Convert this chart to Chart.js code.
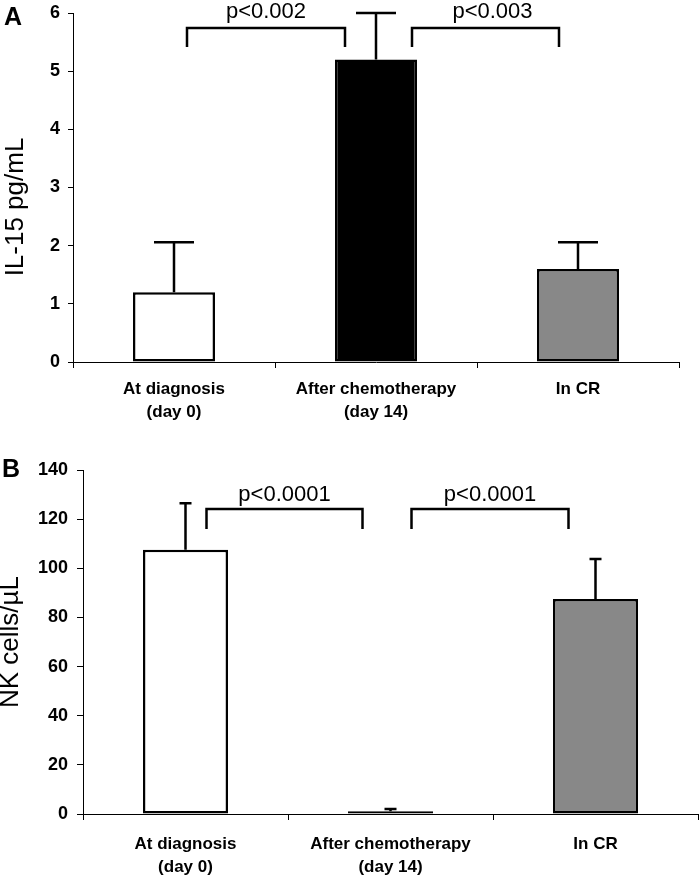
<!DOCTYPE html>
<html>
<head>
<meta charset="utf-8">
<script src="https://cdn.jsdelivr.net/npm/chart.js@4.4.0/dist/chart.umd.min.js"></script>
<style>
  body { margin: 0; background: #fff; }
  .panel { position: absolute; left: 0; }
</style>
</head>
<body>
<div class="panel" style="top:0"><canvas id="il15" width="699" height="440"></canvas></div>
<div class="panel" style="top:440px"><canvas id="nk" width="699" height="438"></canvas></div>
<script>
// groups on the x axis
categories = [["At diagnosis", "(day 0)"], ["After chemotherapy", "(day 14)"], ["In CR"]];
barColors = ["#ffffff", "#000000", "#888888"];

// panel A: IL-15 (pg/mL), mean and upper error
il15Means = [1.2, 5.2, 1.6];
il15Errors = [0.86, 0.8, 0.46];
il15Ticks = [0, 1, 2, 3, 4, 5, 6];
il15PValues = ["p<0.002", "p<0.003"];

// panel B: NK cells/µL
nkMeans = [107.5, 1.1, 87.5];
nkErrors = [19, 0.9, 16.3];
nkTicks = [0, 20, 40, 60, 80, 100, 120, 140];
nkPValues = ["p<0.0001", "p<0.0001"];

Chart.defaults.font.family = "'Liberation Sans', Arial, sans-serif";
Chart.defaults.color = "#000";

const errorBars = {
  id: "errorBars",
  afterDatasetsDraw(chart, args, opts) {
    const ctx = chart.ctx;
    const y = chart.scales.y;
    const ds = chart.data.datasets[0];
    ctx.save();
    ctx.strokeStyle = "#000";
    ctx.lineWidth = 2.5;
    chart.getDatasetMeta(0).data.forEach((bar, i) => {
      const top = y.getPixelForValue(ds.data[i] + opts.errors[i]);
      ctx.beginPath();
      ctx.moveTo(bar.x, bar.y);
      ctx.lineTo(bar.x, top);
      ctx.moveTo(bar.x - opts.cap / 2, top);
      ctx.lineTo(bar.x + opts.cap / 2, top);
      ctx.stroke();
    });
    ctx.restore();
  }
};

const brackets = {
  id: "brackets",
  afterDraw(chart, args, opts) {
    const ctx = chart.ctx;
    const x = chart.scales.x, y = chart.scales.y;
    const top = y.getPixelForValue(opts.level);
    ctx.save();
    ctx.strokeStyle = "#000";
    ctx.lineWidth = 2.5;
    ctx.fillStyle = "#000";
    ctx.font = "22px 'Liberation Sans', Arial, sans-serif";
    ctx.textAlign = "center";
    ctx.textBaseline = "alphabetic";
    opts.items.forEach((b, i) => {
      const x1 = x.getPixelForValue(b.from) + b.dx[0];
      const x2 = x.getPixelForValue(b.to) + b.dx[1];
      ctx.beginPath();
      ctx.moveTo(x1, top + opts.drop);
      ctx.lineTo(x1, top);
      ctx.lineTo(x2, top);
      ctx.lineTo(x2, top + opts.drop);
      ctx.stroke();
      ctx.fillText(opts.labels[i], (x1 + x2) / 2 + (b.textDx || 0), top - opts.gap);
    });
    ctx.restore();
  }
};

const panelText = {
  id: "panelText",
  afterDraw(chart, args, opts) {
    const ctx = chart.ctx;
    ctx.save();
    ctx.fillStyle = "#000";
    ctx.font = "bold 25px 'Liberation Sans', Arial, sans-serif";
    ctx.textAlign = "left";
    ctx.textBaseline = "alphabetic";
    ctx.fillText(opts.letter, opts.letterX, opts.letterY);
    ctx.translate(opts.titleX, opts.titleY);
    ctx.rotate(-Math.PI / 2);
    ctx.font = "26px 'Liberation Sans', Arial, sans-serif";
    ctx.textAlign = "center";
    ctx.textBaseline = "middle";
    ctx.fillText(opts.title, 0, 0);
    ctx.restore();
  }
};

function makePanel(id, means, ticks, cfg) {
  return new Chart(document.getElementById(id), {
    type: "bar",
    data: {
      labels: categories,
      datasets: [{
        data: means,
        backgroundColor: barColors,
        borderColor: "#000",
        borderWidth: 2.5,
        borderSkipped: false,
        categoryPercentage: 1,
        barPercentage: cfg.barPct
      }]
    },
    options: {
      responsive: false,
      animation: false,
      layout: { padding: cfg.padding },
      plugins: {
        legend: { display: false },
        tooltip: { enabled: false },
        errorBars: cfg.errorBars,
        brackets: cfg.brackets,
        panelText: cfg.panelText
      },
      scales: {
        x: {
          grid: { drawOnChartArea: false, drawTicks: true, tickLength: 6, color: "#000", offset: true },
          border: { color: "#000", width: 1 },
          ticks: {
            color: "#000",
            font: { size: 17, weight: "bold", lineHeight: 1.4 },
            padding: cfg.xPad,
            maxRotation: 0,
            autoSkip: false
          },
          afterFit(s) { s.height = cfg.xHeight; s.paddingLeft = 0; s.paddingRight = 0; }
        },
        y: {
          min: ticks[0],
          max: ticks[ticks.length - 1],
          grid: { drawOnChartArea: false, drawTicks: true, tickLength: cfg.yTick, color: "#000" },
          border: { color: "#000", width: 1 },
          ticks: {
            color: "#000",
            font: { size: 18, weight: "bold" },
            padding: cfg.yPad
          },
          afterBuildTicks(s) { s.ticks = ticks.map(v => ({ value: v })); },
          afterFit(s) { s.width = cfg.yWidth; s.paddingTop = 0; s.paddingBottom = 0; }
        }
      }
    },
    plugins: [errorBars, brackets, panelText]
  });
}

makePanel("il15", il15Means, il15Ticks, {
  barPct: 0.406,
  padding: { top: 13, right: 20, left: 0, bottom: 0 },
  xHeight: 78, xPad: 9, yWidth: 73, yTick: 5, yPad: 8,
  errorBars: { errors: il15Errors, cap: 40 },
  brackets: {
    level: 5.74, drop: 19, gap: 10, labels: il15PValues,
    items: [{ from: 0, to: 1, dx: [13, -31] }, { from: 1, to: 2, dx: [36, -19], textDx: 7 }]
  },
  panelText: { letter: "A", letterX: 4, letterY: 25, title: "IL-15 pg/mL", titleX: 16, titleY: 207 }
});

makePanel("nk", nkMeans, nkTicks, {
  barPct: 0.415,
  padding: { top: 30, right: 1, left: 0, bottom: 0 },
  xHeight: 64, xPad: 12, yWidth: 83, yTick: 6, yPad: 9,
  errorBars: { errors: nkErrors, cap: 12 },
  brackets: {
    level: 124.1, drop: 20, gap: 8, labels: nkPValues,
    items: [{ from: 0, to: 1, dx: [21, -28] }, { from: 1, to: 2, dx: [21, -27] }]
  },
  panelText: { letter: "B", letterX: 2, letterY: 37, title: "NK cells/µL", titleX: 11, titleY: 202 }
});
</script>
</body>
</html>
